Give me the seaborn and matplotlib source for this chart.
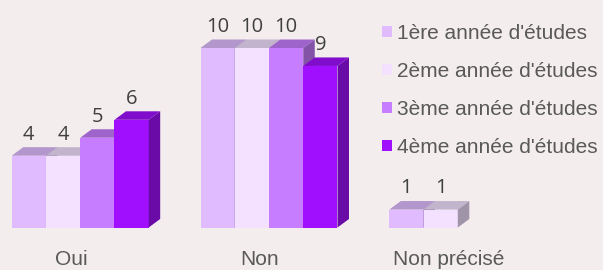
import pandas as pd
import numpy as np
import matplotlib
matplotlib.use("Agg")
import matplotlib.pyplot as plt
import seaborn as sns
from matplotlib.patches import Polygon, Patch

categories = ["Oui", "Non", "Non précisé"]
series = ["1ère année d'études", "2ème année d'études",
          "3ème année d'études", "4ème année d'études"]
annee1 = [4, 10, 1]
annee2 = [4, 10, 1]
annee3 = [5, 10, None]
annee4 = [6, 9, None]
colors = ["#E0BBFF", "#F3E1FF", "#C77DFF", "#A010FF"]

bg = "#F4EDED"

def main():
    rows = []
    for name, vals in zip(series, [annee1, annee2, annee3, annee4]):
        for cat, v in zip(categories, vals):
            if v is not None:
                rows.append({"categorie": cat, "annee": name, "n": v})
    df = pd.DataFrame(rows)

    sns.set_style("white")
    fig = plt.figure(figsize=(6.03, 2.70), dpi=100, facecolor=bg)
    # axes placed so the baseline sits at y=227.5px and group spacing ~189px
    ax = fig.add_axes([0, 42.5 / 270, 1, 227.5 / 270])
    ax.set_facecolor(bg)

    sns.barplot(data=df, x="categorie", y="n", hue="annee",
                order=categories, hue_order=series, palette=colors,
                saturation=1, width=0.7256, dodge=True, linewidth=0,
                legend=False, errorbar=None, ax=ax)

    px_x = 188.8   # pixels per category unit
    px_y = 17.95   # pixels per value unit
    ax.set_xlim(-80.2 / px_x, (603 - 80.2) / px_x)
    ax.set_ylim(0, 227.5 / px_y)

    dx = 11.5 / px_x
    dy = 8.5 / px_y

    bars = sorted([p for p in ax.patches if p.get_height() > 0],
                  key=lambda p: p.get_x())
    for k, p in enumerate(bars):
        x0, w, h = p.get_x(), p.get_width(), p.get_height()
        x1 = x0 + w
        c = np.array(matplotlib.colors.to_rgb(p.get_facecolor()))
        top_c = c * 0.80
        side_c = c * 0.66
        z = 2 + 3 * k
        p.set_zorder(z)
        ax.add_patch(Polygon([(x0, h), (x1, h), (x1 + dx, h + dy), (x0 + dx, h + dy)],
                             closed=True, facecolor=top_c, edgecolor="none", zorder=z + 1))
        ax.add_patch(Polygon([(x1, 0), (x1 + dx, dy), (x1 + dx, h + dy), (x1, h)],
                             closed=True, facecolor=side_c, edgecolor="none", zorder=z + 2))
        ax.annotate(f"{int(h)}", (x0 + w / 2, h + dy), xytext=(0, 5.5),
                    textcoords="offset points", ha="center", va="baseline",
                    fontsize=14.5, color="#404040", family="Open Sans",
                    zorder=200)

    ax.set_xlabel("")
    ax.set_ylabel("")
    ax.set_yticks([])
    ax.set_xticks(range(len(categories)))
    ax.set_xticklabels(categories, fontsize=15, color="#595959",
                       family="Liberation Sans")
    ax.tick_params(axis="x", length=0, pad=16)
    shift = matplotlib.transforms.ScaledTranslation(-9 / 100, 0, fig.dpi_scale_trans)
    for lab in ax.get_xticklabels():
        lab.set_transform(lab.get_transform() + shift)
    for s in ax.spines.values():
        s.set_visible(False)

    handles = [Patch(facecolor=c, edgecolor="none") for c in colors]
    fig.legend(handles, series, loc="upper left",
               bbox_to_anchor=(381.7 / 603, 1 - 24 / 270),
               frameon=False, borderpad=0, borderaxespad=0,
               handlelength=0.48, handleheight=0.48, handletextpad=0.24,
               labelspacing=0.91, labelcolor="#595959",
               prop={"family": "Liberation Sans", "size": 15})

    fig.savefig("out.png", dpi=100, facecolor=bg)
    plt.close(fig)

if __name__ == "__main__":
    main()
